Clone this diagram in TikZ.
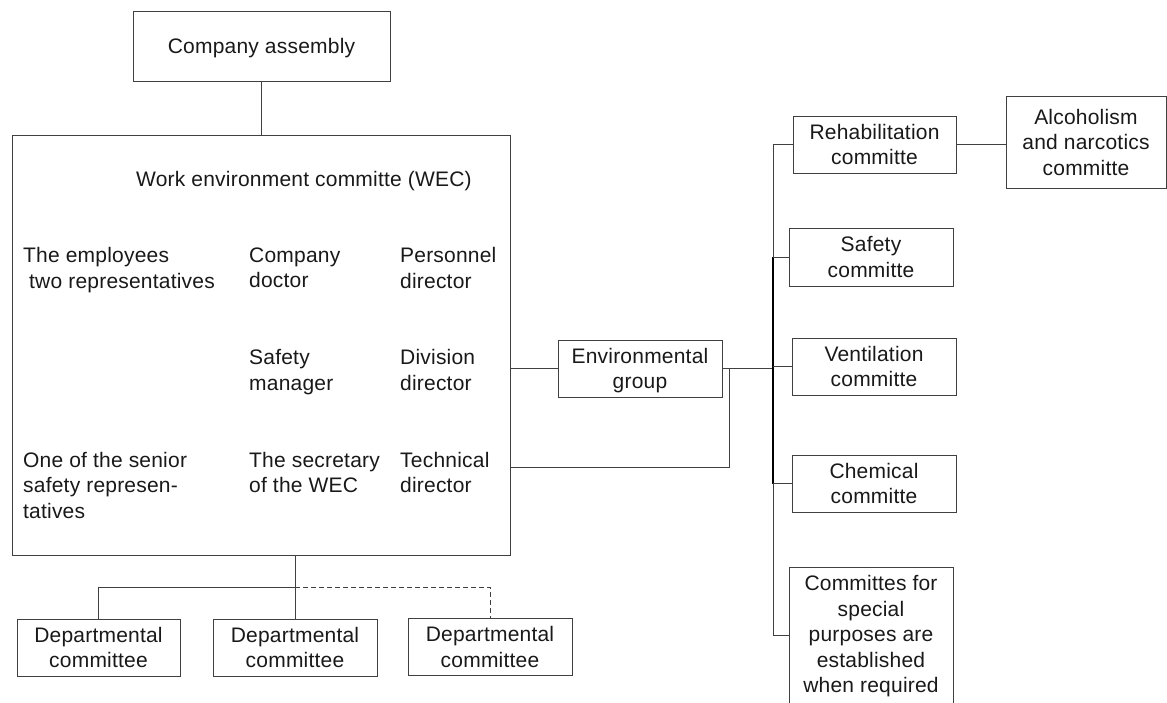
\documentclass[tikz,border=0pt]{standalone}
\usepackage{fontspec}
\setmainfont[LetterSpace=1.0]{Liberation Sans}
\begin{document}
\begin{tikzpicture}[x=1pt,y=-1pt,
  txt/.style={font=\fontsize{21}{25.5}\selectfont, text=black!90, inner sep=0pt},
  member/.style={txt, align=left, anchor=north west},
  box/.style={txt, draw=black!75, line width=0.9pt, align=center,
              minimum width=164pt, minimum height=57pt},
  link/.style={draw=black!75, line width=0.9pt},
  optional/.style={link, dash pattern=on 5pt off 3pt}]
\useasboundingbox (0,0) rectangle (1167,702);
\clip (0,0) rectangle (1167,702);

% top of the hierarchy
\node[box, minimum width=257pt, minimum height=70pt, text depth=0pt] (assembly) at (261.5,46) {Company assembly};
\node[draw=black!75, line width=0.9pt, minimum width=498pt, minimum height=420pt, inner sep=0pt] (wec) at (261,345) {};

% members of the committee
\node[txt, anchor=base west] (title) at (136,186) {Work environment committe (WEC)};
\node[member] (emp)    at (23,247.3)  {The employees\\\hspace*{6pt}two representatives};
\node[member] (doc)    at (249,247.3) {Company\\doctor};
\node[member] (pers)   at (400,247.3) {Personnel\\director};
\node[member] (safm)   at (249,349.3) {Safety\\manager};
\node[member] (div)    at (400,349.3) {Division\\director};
\node[member] (senior) at (23,451.7)  {One of the senior\\safety represen-\\tatives};
\node[member] (secr)   at (249,451.7) {The secretary\\of the WEC};
\node[member] (tech)   at (400,451.7) {Technical\\director};

% environmental group and its committees
\node[box, text depth=0pt] (env) at (640,368.5) {Environmental\\group};
\node[box, minimum width=163pt] (rehab) at (874.5,144.5) {Rehabilitation\\committe};
\node[box, minimum width=160pt, minimum height=92pt] (alc) at (1086,142) {Alcoholism\\and narcotics\\committe};
\node[box, minimum height=58pt] (safety) at (871,257) {Safety\\committe};
\node[box] (vent) at (874,366.5) {Ventilation\\committe};
\node[box] (chem) at (874,483.5) {Chemical\\committe};
\node[box, minimum height=0pt, anchor=north, inner ysep=8pt] (special) at (871,567)
  {Committes for\\special\\purposes are\\established\\when required};

% departmental committees
\node[box, minimum width=163pt] (d1) at (98.5,647.5) {Departmental\\committee};
\node[box] (d2) at (295,647.5) {Departmental\\committee};
\node[box] (d3) at (490,647) {Departmental\\committee};

% junction points
\coordinate (spinetop) at (773,144.5);
\coordinate (spinebot) at (773,635);
\coordinate (envjoin) at (729,368.5);
\coordinate (split) at (295,587);

% connectors
\draw[link] (assembly.south) -- (assembly.south |- wec.north);
\draw[link] (wec.east |- env.west) -- (env.west);
\draw[link] (env.east) -- (env.east -| spinetop);
\draw[link] (wec.east |- 0,467) -| (envjoin);
\draw[link] (spinetop) -- (spinebot);
\draw[link, line width=1.4pt, draw=black] (safety.west -| spinetop) -- (chem.west -| spinetop);
\draw[link] (rehab.west -| spinetop) -- (rehab.west);
\draw[link] (rehab.east) -- (rehab.east -| alc.west);
\draw[link] (safety.west -| spinetop) -- (safety.west);
\draw[link] (vent.west -| spinetop) -- (vent.west);
\draw[link] (chem.west -| spinetop) -- (chem.west);
\draw[link] (spinebot) -- (spinebot -| special.west);

\draw[link] (wec.south -| d2.north) -- (d2.north);
\draw[link] (d1.north) |- (split);
\draw[optional] (split) -| (d3.north);
\end{tikzpicture}
\end{document}
